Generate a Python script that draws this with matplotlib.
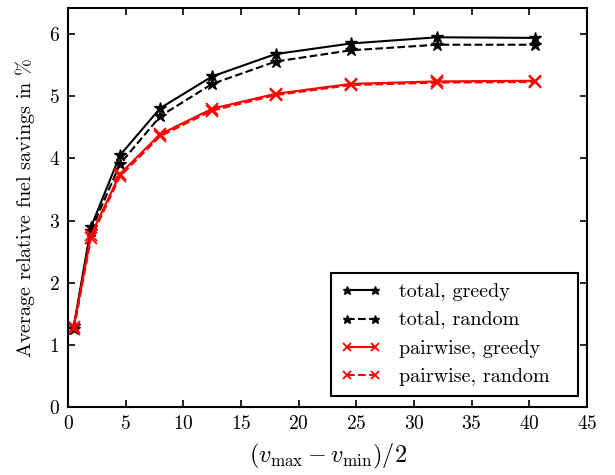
import matplotlib
matplotlib.use("Agg")
import matplotlib.pyplot as plt

plt.rcParams['font.family'] = 'serif'
plt.rcParams['font.serif'] = ['cmr10']
plt.rcParams['mathtext.fontset'] = 'cm'
plt.rcParams['axes.formatter.use_mathtext'] = True

# data
x = [0.5, 2, 4.5, 8, 12.5, 18, 24.5, 32, 40.5]
total_greedy = [1.30, 2.90, 4.05, 4.81, 5.32, 5.68, 5.85, 5.95, 5.94]
total_random = [1.26, 2.84, 3.91, 4.68, 5.20, 5.56, 5.74, 5.83, 5.83]
pair_greedy = [1.29, 2.77, 3.75, 4.39, 4.80, 5.04, 5.20, 5.24, 5.25]
pair_random = [1.25, 2.72, 3.71, 4.36, 4.77, 5.02, 5.18, 5.22, 5.23]

fig = plt.figure(figsize=(6.15, 4.75), dpi=100)
ax = fig.add_axes([0.1106, 0.1432, 0.8439, 0.8398])

ax.plot(x, total_greedy, 'k-', marker='*', ms=9, lw=1.5, label='total, greedy')
ax.plot(x, total_random, 'k--', marker='*', ms=9, lw=1.5, label='total, random')
ax.plot(x, pair_greedy, 'r-', marker='x', ms=9, mew=1.3, lw=1.5, label='pairwise, greedy')
ax.plot(x, pair_random, 'r--', marker='x', ms=9, mew=1.3, lw=1.5, label='pairwise, random')

ax.set_xlim(0, 45)
ax.set_ylim(0, 6.42)
ax.set_xticks(range(0, 46, 5))
ax.set_yticks(range(0, 7))
ax.tick_params(direction='in', top=True, right=True, labelsize=14, width=1.2, length=5, pad=6)
for s in ax.spines.values():
    s.set_linewidth(1.5)

ax.set_xlabel(r'$(v_{\max}-v_{\min})/2$', fontsize=17.5, labelpad=6)
ax.set_ylabel(r'Average relative fuel savings in $\%$', fontsize=14.5, labelpad=8)

leg = ax.legend(loc='lower left', bbox_to_anchor=(0.5067, 0.0276, 0.476, 0.313),
                mode='expand', fontsize=14.5, numpoints=2, fancybox=False,
                framealpha=1, edgecolor='k', borderaxespad=0, handlelength=2.0,
                handletextpad=0.9, borderpad=0.5, markerscale=0.7, labelspacing=0.5)
leg.get_frame().set_linewidth(1.5)

fig.savefig('out.png', dpi=100)
